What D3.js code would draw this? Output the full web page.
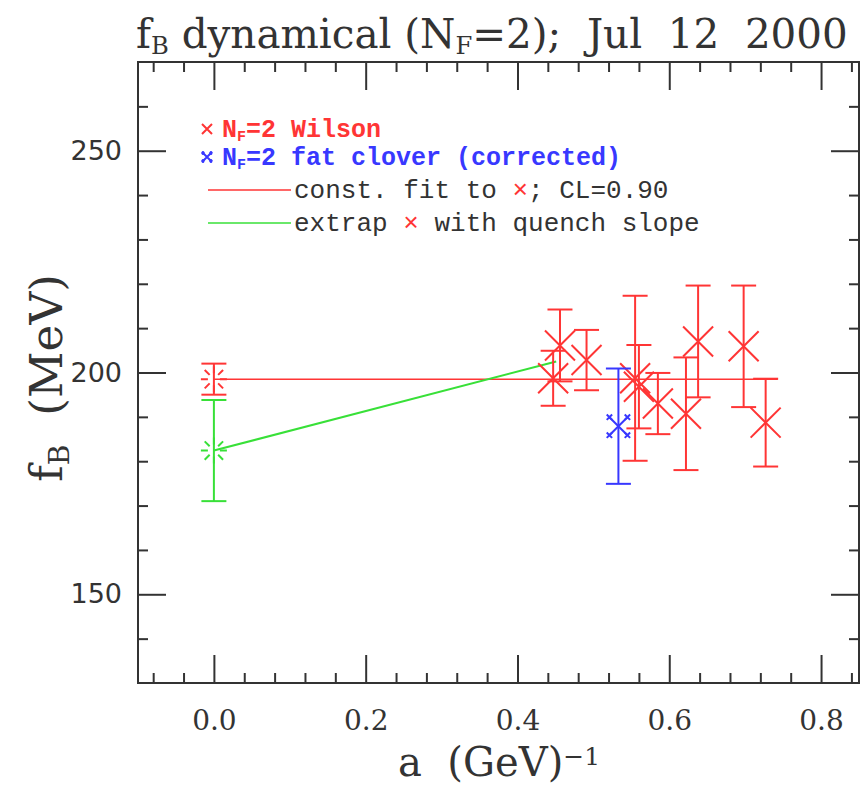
<!DOCTYPE html>
<html>
<head>
<meta charset="UTF-8">
<script src="https://d3js.org/d3.v7.min.js"></script>
<style>
  body { margin: 0; background: #fff; }
  .tick line { stroke: #333; stroke-width: 2; }
  .domain { display: none; }
</style>
</head>
<body>
<div id="chart"></div>
<script>
// data
var wilsonA   = [0.447, 0.456, 0.491, 0.555, 0.560, 0.585, 0.622, 0.638, 0.698, 0.727];
var wilsonF   = [198.7, 206.1, 202.8, 198.7, 196.8, 193.0, 190.7, 207.0, 205.9, 188.7];
var wilsonErr = [6.2, 8.1, 6.8, 18.6, 9.4, 6.9, 12.7, 12.6, 13.7, 9.9];

var cloverA   = [0.533];
var cloverF   = [187.9];
var cloverErr = [13.0];

// constant fit and extrapolation
var fitValue = 198.5, fitErr = 3.5, fitRange = [0, 0.743];
var extrapValue = 182.4, extrapErr = 11.4, extrapEnd = [0.451, 202.5];

var xMajor = [0.0, 0.2, 0.4, 0.6, 0.8];
var yMajor = [150, 200, 250];

var width = 862, height = 790;
var margin = {top: 62, right: 3, bottom: 107, left: 138};
var red = "#ff3535", blue = "#3838ff", green = "#38e038";

var svg = d3.select("#chart").append("svg")
  .attr("width", width).attr("height", height);

var x = d3.scaleLinear().domain([-0.1, 0.85]).range([margin.left, width - margin.right]);
var y = d3.scaleLinear().domain([130, 270]).range([height - margin.bottom, margin.top]);

var xMinor = d3.range(-0.08, 0.85, 0.04).filter(function(v) {
  return Math.abs(Math.round(v * 5) - v * 5) > 1e-6;
});
var yMinor = d3.range(140, 270, 10).filter(function(v) { return v % 50 != 0; });

var big = 28, small = 10;

// ticks on all four sides, pointing inward
function addAxis(axis, tf) {
  return svg.append("g").attr("transform", tf).call(axis);
}
var bottomY = y.range()[0], topY = y.range()[1];
var leftX = x.range()[0], rightX = x.range()[1];

addAxis(d3.axisBottom(x).tickValues(xMajor).tickSize(-big).tickFormat(d3.format(".1f")), "translate(0," + bottomY + ")")
  .selectAll("text")
  .attr("y", 27).attr("dy", "0.71em")
  .style("font-family", "DejaVu Serif").style("font-size", "28px").style("fill", "#333");
addAxis(d3.axisBottom(x).tickValues(xMinor).tickSize(-small).tickFormat(""), "translate(0," + bottomY + ")");
addAxis(d3.axisTop(x).tickValues(xMajor).tickSize(-big).tickFormat(""), "translate(0," + topY + ")");
addAxis(d3.axisTop(x).tickValues(xMinor).tickSize(-small).tickFormat(""), "translate(0," + topY + ")");

addAxis(d3.axisLeft(y).tickValues(yMajor).tickSize(-big).tickFormat(d3.format("d")), "translate(" + leftX + ",0)")
  .selectAll("text")
  .attr("x", -16)
  .style("font-family", "DejaVu Sans").style("font-size", "27px").style("fill", "#333");
addAxis(d3.axisLeft(y).tickValues(yMinor).tickSize(-small).tickFormat(""), "translate(" + leftX + ",0)");
addAxis(d3.axisRight(y).tickValues(yMajor).tickSize(-big).tickFormat(""), "translate(" + rightX + ",0)");
addAxis(d3.axisRight(y).tickValues(yMinor).tickSize(-small).tickFormat(""), "translate(" + rightX + ",0)");

// frame
svg.append("rect")
  .attr("x", leftX).attr("y", topY)
  .attr("width", rightX - leftX).attr("height", bottomY - topY)
  .attr("fill", "none").attr("stroke", "#333").attr("stroke-width", 2);

var plot = svg.append("g");

function errBar(g, cx, val, err, color) {
  g.append("line")
    .attr("x1", x(cx)).attr("x2", x(cx))
    .attr("y1", y(val - err)).attr("y2", y(val + err))
    .attr("stroke", color).attr("stroke-width", 2);
  [val - err, val + err].forEach(function(v) {
    g.append("line")
      .attr("x1", x(cx) - 12.5).attr("x2", x(cx) + 12.5)
      .attr("y1", y(v)).attr("y2", y(v))
      .attr("stroke", color).attr("stroke-width", 2);
  });
}

function cross(g, px, py, r, color, w) {
  g.append("path")
    .attr("d", "M" + (px - r) + "," + (py - r) + "L" + (px + r) + "," + (py + r) +
               "M" + (px - r) + "," + (py + r) + "L" + (px + r) + "," + (py - r))
    .attr("stroke", color).attr("stroke-width", w).attr("fill", "none");
}

function cloverMark(g, px, py, r, color) {
  cross(g, px, py, r, color, 2);
  [[-1, -1], [1, -1], [-1, 1], [1, 1]].forEach(function(s) {
    cross(g, px + s[0] * r, py + s[1] * r, r * 0.3, color, 2);
  });
}

function burst(g, px, py, color) {
  var d = "";
  for (var i = 0; i < 8; i++) {
    var t = i * Math.PI / 4;
    d += "M" + (px + 6 * Math.cos(t)) + "," + (py + 6 * Math.sin(t)) +
         "L" + (px + 13 * Math.cos(t)) + "," + (py + 13 * Math.sin(t));
  }
  g.append("path").attr("d", d).attr("stroke", color).attr("stroke-width", 2).attr("fill", "none");
}

// size a text so it spans the given width (sub/superscripts are in em)
function fitWidth(t, base, w) {
  t.style("font-size", base + "px");
  var got = t.node().getComputedTextLength();
  t.style("font-size", (base * w / got) + "px");
}

// constant fit line
plot.append("line")
  .attr("x1", x(fitRange[0])).attr("x2", x(fitRange[1]))
  .attr("y1", y(fitValue)).attr("y2", y(fitValue))
  .attr("stroke", red).attr("stroke-width", 1.5);
// extrapolation line
plot.append("line")
  .attr("x1", x(0)).attr("y1", y(extrapValue))
  .attr("x2", x(extrapEnd[0])).attr("y2", y(extrapEnd[1]))
  .attr("stroke", green).attr("stroke-width", 2);

errBar(plot, 0, fitValue, fitErr, red);
burst(plot, x(0), y(fitValue), red);
errBar(plot, 0, extrapValue, extrapErr, green);
burst(plot, x(0), y(extrapValue), green);

wilsonA.forEach(function(a, i) {
  errBar(plot, a, wilsonF[i], wilsonErr[i], red);
  cross(plot, x(a), y(wilsonF[i]), 15, red, 2);
});
cloverA.forEach(function(a, i) {
  errBar(plot, a, cloverF[i], cloverErr[i], blue);
  cloverMark(plot, x(a), y(cloverF[i]), 9, blue);
});

// legend
var lg = svg.append("g")
  .style("font-family", "Liberation Mono").style("font-size", "25px").style("font-weight", "bold");

cross(lg, 207, 129, 5, red, 2);
var t1 = lg.append("text").attr("x", 222).attr("y", 137).attr("fill", red);
t1.append("tspan").text("N");
t1.append("tspan").attr("baseline-shift", "-25%").style("font-size", "15px").text("F");
t1.append("tspan").text("=2 Wilson");

cloverMark(lg, 207, 157, 4, blue);
var t2 = lg.append("text").attr("x", 222).attr("y", 165).attr("fill", blue);
t2.append("tspan").text("N");
t2.append("tspan").attr("baseline-shift", "-25%").style("font-size", "15px").text("F");
t2.append("tspan").text("=2 fat clover (corrected)");

lg.append("line").attr("x1", 208).attr("x2", 291).attr("y1", 190).attr("y2", 190)
  .attr("stroke", red).attr("stroke-width", 1.5);
var t3 = lg.append("text").attr("x", 294).attr("y", 198).attr("fill", "#333")
  .style("font-weight", "normal").style("font-size", "26px");
t3.append("tspan").text("const. fit to ");
t3.append("tspan").attr("fill", red).text("\u00d7");
t3.append("tspan").text("; CL=0.90");

lg.append("line").attr("x1", 208).attr("x2", 291).attr("y1", 223).attr("y2", 223)
  .attr("stroke", green).attr("stroke-width", 1.5);
var t4 = lg.append("text").attr("x", 294).attr("y", 231).attr("fill", "#333")
  .style("font-weight", "normal").style("font-size", "26px");
t4.append("tspan").text("extrap ");
t4.append("tspan").attr("fill", red).text("\u00d7");
t4.append("tspan").text(" with quench slope");

// title
var title = svg.append("text").attr("x", 136).attr("y", 48)
  .style("font-family", "DejaVu Serif").attr("fill", "#333");
title.append("tspan").text("f");
title.append("tspan").attr("baseline-shift", "-25%").style("font-size", "0.6em").text("B");
title.append("tspan").text(" dynamical (N");
title.append("tspan").attr("baseline-shift", "-25%").style("font-size", "0.6em").text("F");
title.append("tspan").text("=2);  Jul  12  2000").attr("xml:space", "preserve");
title.attr("xml:space", "preserve");
fitWidth(title, 30, 712);

// axis labels
var xl = svg.append("text").attr("x", 398).attr("y", 776).attr("xml:space", "preserve")
  .style("font-family", "DejaVu Serif").attr("fill", "#333");
xl.append("tspan").text("a  (GeV)");
xl.append("tspan").attr("baseline-shift", "45%").style("font-size", "0.62em").text("\u22121");
fitWidth(xl, 36, 202);

var yl = svg.append("text").attr("xml:space", "preserve")
  .attr("transform", "translate(62,482) rotate(-90)")
  .style("font-family", "DejaVu Serif").attr("fill", "#333");
yl.append("tspan").text("f");
yl.append("tspan").attr("baseline-shift", "-25%").style("font-size", "0.62em").text("B");
yl.append("tspan").text("  (MeV)");
fitWidth(yl, 36, 208);
</script>
</body>
</html>
